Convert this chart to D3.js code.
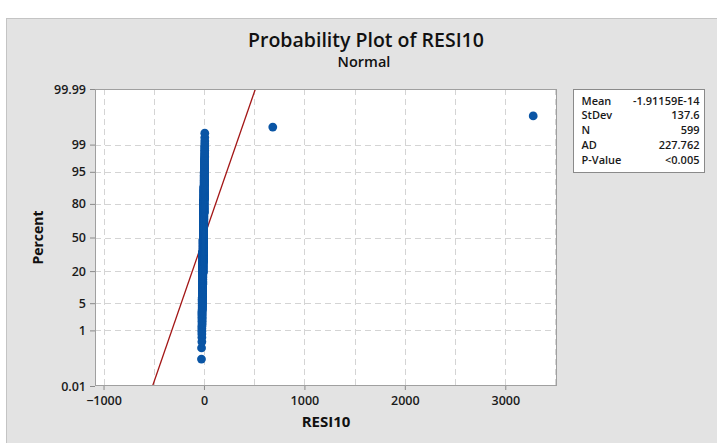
<!DOCTYPE html>
<html><head><meta charset="utf-8">
<script src="https://cdn.jsdelivr.net/npm/d3@7"></script>
<style>
html,body{margin:0;padding:0;background:#fff;}
svg{display:block;font-family:"Open Sans","Noto Sans",sans-serif;}
</style></head>
<body>
<svg id="chart" width="717" height="443"></svg>
<script>
// ---- data ----
const titleText = "Probability Plot of RESI10";
const subtitleText = "Normal";
const xLabelText = "RESI10";
const yLabelText = "Percent";
// residual values near zero, as value / count pairs (sorted)
const residValues = [-25,-24,-21,-19,-17,-15,-13,-11,-9,-7,-5,-3,-1,1,3,5,7,8];
const residCounts = [1,1,6,12,20,30,40,50,60,70,75,70,60,45,30,15,8,4];
// two large outliers
const outlierValues = [685, 3278];
const sampleN = 599;
const fitMean = -1.91159e-14;
const fitStDev = 137.6;
const xTicks = [-1000, 0, 1000, 2000, 3000];
const xGrid = [-1000,-500,0,500,1000,1500,2000,2500,3000,3500];
const yTickPercents = [0.01, 1, 5, 20, 50, 80, 95, 99, 99.99];
const yTickLabels = ["0.01","1","5","20","50","80","95","99","99.99"];
const statNames = ["Mean","StDev","N","AD","P-Value"];
const statValues = ["-1.91159E-14","137.6","599","227.762","<0.005"];

// inverse standard normal CDF (Acklam)
function normInv(p){
  const a=[-3.969683028665376e+01,2.209460984245205e+02,-2.759285104469687e+02,1.383577518672690e+02,-3.066479806614716e+01,2.506628277459239e+00];
  const b=[-5.447609879822406e+01,1.615858368580409e+02,-1.556989798598866e+02,6.680131188771972e+01,-1.328068155288572e+01];
  const c=[-7.784894002430293e-03,-3.223964580411365e-01,-2.400758277161838e+00,-2.549732539343734e+00,4.374664141464968e+00,2.938163982698783e+00];
  const d=[7.784695709041462e-03,3.224671290700398e-01,2.445134137142996e+00,3.754408661907416e+00];
  const pl=0.02425, ph=1-pl; let q,r;
  if(p<pl){q=Math.sqrt(-2*Math.log(p));return (((((c[0]*q+c[1])*q+c[2])*q+c[3])*q+c[4])*q+c[5])/((((d[0]*q+d[1])*q+d[2])*q+d[3])*q+1);}
  if(p<=ph){q=p-0.5;r=q*q;return (((((a[0]*r+a[1])*r+a[2])*r+a[3])*r+a[4])*r+a[5])*q/(((((b[0]*r+b[1])*r+b[2])*r+b[3])*r+b[4])*r+1);}
  q=Math.sqrt(-2*Math.log(1-p));return -(((((c[0]*q+c[1])*q+c[2])*q+c[3])*q+c[4])*q+c[5])/((((d[0]*q+d[1])*q+d[2])*q+d[3])*q+1);
}

// build sorted sample
const sample = [];
residValues.forEach((v,i)=>{ for(let k=0;k<residCounts[i];k++) sample.push(v); });
outlierValues.forEach(v=>sample.push(v));
sample.sort((a,b)=>a-b);
const points = sample.map((v,i)=>({x:v, z:normInv((i+1-0.3)/(sampleN+0.4))}));

// ---- layout ----
const svg = d3.select("#chart");
const W=717,H=443;
const L=95,R=557,T=89,B=386;
svg.append("rect").attr("x",6).attr("y",18).attr("width",W-6).attr("height",H-18).attr("fill","#e3e3e3");
svg.append("line").attr("x1",6).attr("x2",W).attr("y1",18.5).attr("y2",18.5).attr("stroke","#c4c4c4");
svg.append("line").attr("x1",6.5).attr("x2",6.5).attr("y1",18).attr("y2",H).attr("stroke","#c4c4c4");

const zMax = normInv(0.9999);
const x = d3.scaleLinear().domain([-1085,3515]).range([L,R]);
const y = d3.scaleLinear().domain([-zMax,zMax]).range([B,T]);

svg.append("rect").attr("x",L).attr("y",T).attr("width",R-L).attr("height",B-T).attr("fill","#fff");

// grid
const grid = svg.append("g").attr("stroke","#d4d4d4").attr("stroke-dasharray","6,4").attr("stroke-width",1);
grid.selectAll("line.v").data(xGrid).join("line")
  .attr("x1",d=>Math.round(x(d))+0.5).attr("x2",d=>Math.round(x(d))+0.5).attr("y1",T).attr("y2",B);
grid.selectAll("line.h").data(yTickPercents.slice(1,-1)).join("line")
  .attr("x1",L).attr("x2",R).attr("y1",d=>Math.round(y(normInv(d/100)))+0.5).attr("y2",d=>Math.round(y(normInv(d/100)))+0.5);

// clip
svg.append("clipPath").attr("id","clip").append("rect").attr("x",L).attr("y",T).attr("width",R-L).attr("height",B-T);

// fitted line
svg.append("line").attr("clip-path","url(#clip)")
  .attr("x1",x(fitMean+fitStDev*(-zMax))).attr("y1",y(-zMax))
  .attr("x2",x(fitMean+fitStDev*zMax)).attr("y2",y(zMax))
  .attr("stroke","#a31616").attr("stroke-width",1.3);

// points
svg.append("g").selectAll("circle").data(points).join("circle")
  .attr("cx",d=>x(d.x)).attr("cy",d=>y(d.z)).attr("r",4.4).attr("fill","#0a55a5");

// frame
svg.append("rect").attr("x",L+0.5).attr("y",T+0.5).attr("width",R-L-1).attr("height",B-T-1).attr("fill","none").attr("stroke","#a0a0a0");

// axes
const xAxis = d3.axisBottom(x).tickValues(xTicks).tickSize(4).tickSizeOuter(0).tickFormat(d3.format("d"));
const gx = svg.append("g").attr("transform",`translate(0,${B})`).call(xAxis);
const yAxis = d3.axisLeft(y).tickValues(yTickPercents.map(p=>normInv(p/100))).tickSize(5).tickSizeOuter(0)
  .tickFormat((d,i)=>yTickLabels[i]);
const gy = svg.append("g").attr("transform",`translate(${L},0)`).call(yAxis);
[gx,gy].forEach(g=>{
  g.select(".domain").remove();
  g.selectAll(".tick line").attr("stroke","#8a8a8a");
  g.selectAll("text").attr("fill","#1a1a1a").attr("font-size","12.5px").attr("font-weight",600)
    .attr("font-family",'"Open Sans","Noto Sans",sans-serif');
});
gx.selectAll("text").attr("dy","0.95em");
gy.selectAll("text").attr("dx","-1px");

// titles
svg.append("text").attr("x",366).attr("y",47).attr("text-anchor","middle")
  .attr("font-size","19.5px").attr("font-weight",600).attr("fill","#111").text(titleText);
svg.append("text").attr("x",364).attr("y",67).attr("text-anchor","middle")
  .attr("font-size","14.5px").attr("font-weight",600).attr("fill","#111").text(subtitleText);
svg.append("text").attr("x",(L+R)/2).attr("y",427).attr("text-anchor","middle")
  .attr("font-size","15px").attr("font-weight",700).attr("fill","#111").text(xLabelText);
svg.append("text").attr("transform",`translate(43,${(T+B)/2}) rotate(-90)`).attr("text-anchor","middle")
  .attr("font-size","14px").attr("font-weight",700).attr("fill","#111").text(yLabelText);

// stats box
const bx=573.5, by=89.5, bw=131, bh=83;
svg.append("rect").attr("x",bx).attr("y",by).attr("width",bw).attr("height",bh).attr("fill","#fff").attr("stroke","#8a8a8a");
const sg = svg.append("g").attr("font-size","11px").attr("font-weight",600).attr("fill","#1a1a1a");
sg.selectAll("text.n").data(statNames).join("text").attr("x",bx+8).attr("y",(d,i)=>by+15+i*14.8).text(d=>d);
sg.selectAll("text.v").data(statValues).join("text").attr("x",bx+bw-5).attr("y",(d,i)=>by+15+i*14.8)
  .attr("text-anchor","end").text(d=>d);
</script>
</body></html>
